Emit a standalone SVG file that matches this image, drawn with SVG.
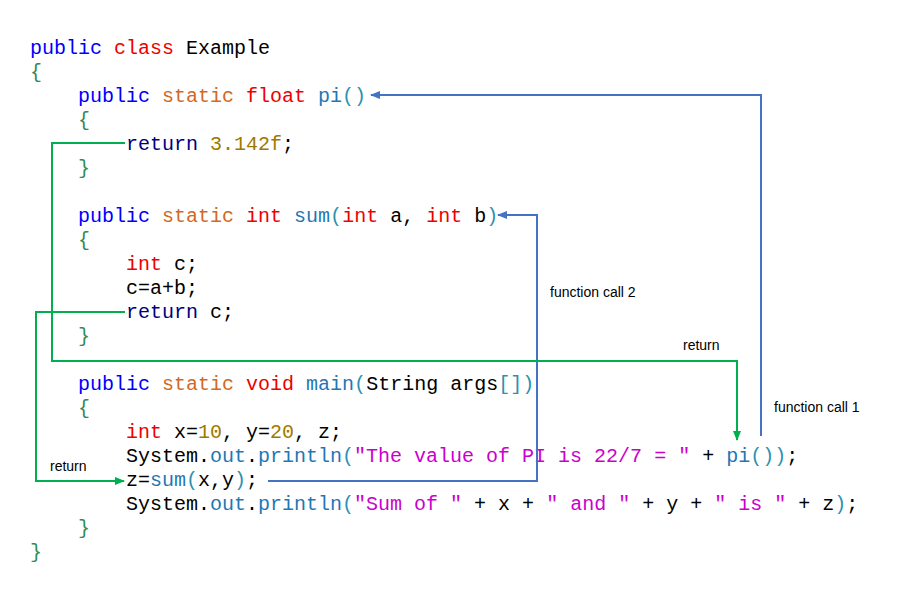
<svg xmlns="http://www.w3.org/2000/svg" width="910" height="614" viewBox="0 0 910 614">
<style>
.c{font-family:"Liberation Mono","DejaVu Sans Mono",monospace;font-size:20px;fill:#000;white-space:pre}
.k{fill:#0000ff}.r{fill:#ee0000}.s{fill:#d2691e}.f{fill:#1f77b4}.p{fill:#2b91af}.b{fill:#2e8b57}.n{fill:#a07800}.q{fill:#cc00cc}.t{fill:#000080}
.l{font-family:"Liberation Sans",Arial,sans-serif;font-size:14px;fill:#000}
.bl{fill:none;stroke:#4472c4;stroke-width:2}.gr{fill:none;stroke:#00b050;stroke-width:2}
</style>
<defs>
<marker id="ab" markerWidth="10" markerHeight="10" refX="9" refY="5" orient="auto" markerUnits="userSpaceOnUse"><path d="M0,1 L10,5 L0,9 Z" fill="#4472c4"/></marker>
<marker id="ag" markerWidth="10" markerHeight="10" refX="9" refY="5" orient="auto" markerUnits="userSpaceOnUse"><path d="M0,1 L10,5 L0,9 Z" fill="#00b050"/></marker>
</defs>
<rect width="910" height="614" fill="#fff"/>
<g id="code">
<text class="c" x="30" y="54"><tspan class="k">public</tspan> <tspan class="r">class</tspan> Example</text>
<text class="c b" x="30" y="78">{</text>
<text class="c" x="78" y="102"><tspan class="k">public</tspan> <tspan class="s">static</tspan> <tspan class="r">float</tspan> <tspan class="f">pi</tspan><tspan class="p">()</tspan></text>
<text class="c b" x="78" y="126">{</text>
<text class="c" x="126" y="150"><tspan class="t">return</tspan> <tspan class="n">3.142f</tspan>;</text>
<text class="c b" x="78" y="174">}</text>
<text class="c" x="78" y="222"><tspan class="k">public</tspan> <tspan class="s">static</tspan> <tspan class="r">int</tspan> <tspan class="f">sum</tspan><tspan class="p">(</tspan><tspan class="r">int</tspan> a, <tspan class="r">int</tspan> b<tspan class="p">)</tspan></text>
<text class="c b" x="78" y="246">{</text>
<text class="c" x="126" y="270"><tspan class="r">int</tspan> c;</text>
<text class="c" x="126" y="294">c=a+b;</text>
<text class="c" x="126" y="318"><tspan class="t">return</tspan> c;</text>
<text class="c b" x="78" y="342">}</text>
<text class="c" x="78" y="390"><tspan class="k">public</tspan> <tspan class="s">static</tspan> <tspan class="r">void</tspan> <tspan class="f">main</tspan><tspan class="p">(</tspan>String args<tspan class="p">[])</tspan></text>
<text class="c b" x="78" y="414">{</text>
<text class="c" x="126" y="438"><tspan class="r">int</tspan> x=<tspan class="n">10</tspan>, y=<tspan class="n">20</tspan>, z;</text>
<text class="c" x="126" y="462">System.<tspan class="f">out</tspan>.<tspan class="f">println</tspan><tspan class="p">(</tspan><tspan class="q">"The value of PI is 22/7 = "</tspan> + <tspan class="f">pi</tspan><tspan class="p">())</tspan>;</text>
<text class="c" x="126" y="486">z=<tspan class="f">sum</tspan><tspan class="p">(</tspan>x,y<tspan class="p">)</tspan>;</text>
<text class="c" x="126" y="510">System.<tspan class="f">out</tspan>.<tspan class="f">println</tspan><tspan class="p">(</tspan><tspan class="q">"Sum of "</tspan> + x + <tspan class="q">" and "</tspan> + y + <tspan class="q">" is "</tspan> + z<tspan class="p">)</tspan>;</text>
<text class="c b" x="78" y="534">}</text>
<text class="c b" x="30" y="558">}</text>
</g>
<g id="connectors">
<polyline class="bl" points="761,436 761,95 371,95" marker-end="url(#ab)"/>
<polyline class="bl" points="268,481 537,481 537,215 498,215" marker-end="url(#ab)"/>
<polyline class="gr" points="125,143 52,143 52,361 737,361 737,440" marker-end="url(#ag)"/>
<polyline class="gr" points="125,312 36,312 36,481 124,481" marker-end="url(#ag)"/>
</g>
<g id="labels">
<text class="l" x="550" y="297">function call 2</text>
<text class="l" x="683" y="350">return</text>
<text class="l" x="774" y="412">function call 1</text>
<text class="l" x="50" y="471">return</text>
</g>
</svg>
